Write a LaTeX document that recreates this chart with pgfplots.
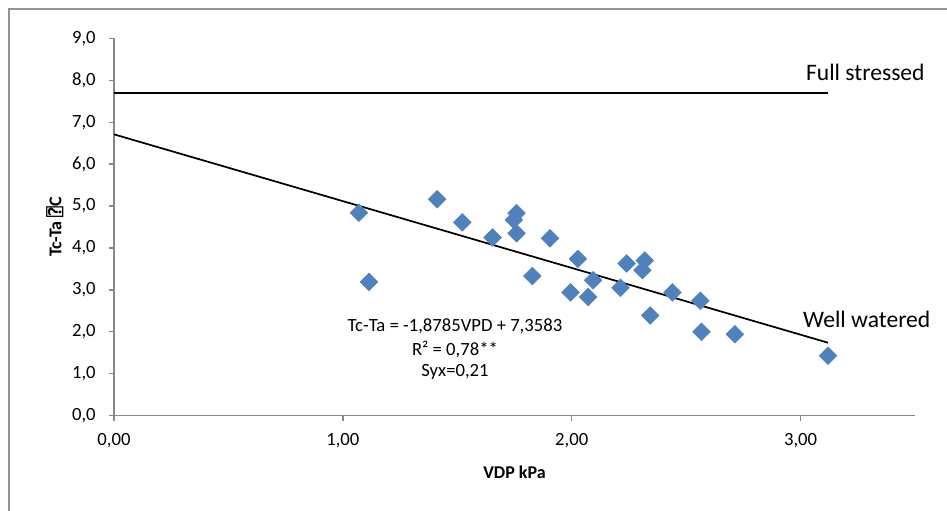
\documentclass[border=0pt]{standalone}
\usepackage{fontspec}
\setmainfont{Carlito}
\newfontfamily\symfont{DejaVu Sans Mono}
\usepackage{pgfplots}
\pgfplotsset{compat=1.18}
\definecolor{xlblue}{HTML}{4F81BD}
\definecolor{axgray}{HTML}{868686}

\begin{document}
\begin{tikzpicture}
% 1 px of the reference = 0.75pt
\path[use as bounding box] (0pt,0pt) rectangle (710.25pt,383.25pt);
% chart area frame (only top and left edges visible)
\draw[axgray!90, line width=1.1pt] (6.75pt,0pt) -- (6.75pt,376.5pt) -- (710.25pt,376.5pt);
\begin{axis}[
    at={(85.5pt,71.5pt)}, anchor=south west,
    scale only axis, width=600.75pt, height=283pt,
    xmin=0, xmax=3.5, ymin=0, ymax=9,
    axis x line*=bottom, axis y line*=left,
    axis line style={axgray, line width=1pt},
    xtick={0,1,2,3}, ytick={0,1,...,9},
    tick align=outside, major tick length=3.75pt,
    tick style={axgray, line width=1pt},
    xticklabel style={yshift=-6pt, /pgf/number format/.cd, fixed, fixed zerofill, precision=2, use comma},
    yticklabel style={xshift=-6.5pt, /pgf/number format/.cd, fixed, fixed zerofill, precision=1, use comma},
    /pgf/number format/assume math mode=true,
    tick label style={font=\fontsize{14}{16}\selectfont, black},
    xlabel={VDP kPa},
    ylabel={Tc-Ta {\symfont ⍰}C},
    label style={font=\bfseries\fontsize{13.5}{16}\selectfont},
    xlabel style={at={(axis description cs:0.5,-0.149)}, anchor=center},
    ylabel style={at={(axis description cs:-0.074,0.5)}, anchor=center},
    clip=false,
]
% full stressed baseline
\addplot[black, line width=1.3pt] coordinates {(0,7.69) (3.12,7.69)};
% well watered baseline (fitted line as drawn)
\addplot[black, line width=1.3pt] coordinates {(0,6.71) (3.12,1.74)};
\addplot[only marks, mark=square*, mark size=4.7pt,
         mark options={rotate=45, fill=xlblue, draw=xlblue}] coordinates {
  (1.070,4.84) (1.114,3.19) (1.412,5.16) (1.522,4.61) (1.654,4.25)
  (1.747,4.67) (1.759,4.83) (1.759,4.35) (1.828,3.33) (1.905,4.23)
  (1.995,2.94) (2.027,3.74) (2.072,2.83) (2.094,3.23) (2.213,3.05)
  (2.240,3.63) (2.309,3.47) (2.319,3.70) (2.343,2.39) (2.440,2.94)
  (2.562,2.74) (2.567,2.00) (2.713,1.94) (3.120,1.43)
};
\node[font=\fontsize{14}{16}\selectfont] at (axis cs:1.49,2.12) {Tc-Ta = -1,8785VPD + 7,3583};
\node[font=\fontsize{14}{16}\selectfont] at (axis cs:1.49,1.59) {R² = 0,78**};
\node[font=\fontsize{14}{16}\selectfont] at (axis cs:1.49,1.05) {Syx=0,21};
\node[anchor=base west, inner sep=0pt, font=\fontsize{17.7}{20}\selectfont] at (axis cs:3.023,7.99) {Full stressed};
\node[anchor=base west, inner sep=0pt, font=\fontsize{17.7}{20}\selectfont] at (axis cs:3.010,2.11) {Well watered};
\end{axis}
\end{tikzpicture}
\end{document}
